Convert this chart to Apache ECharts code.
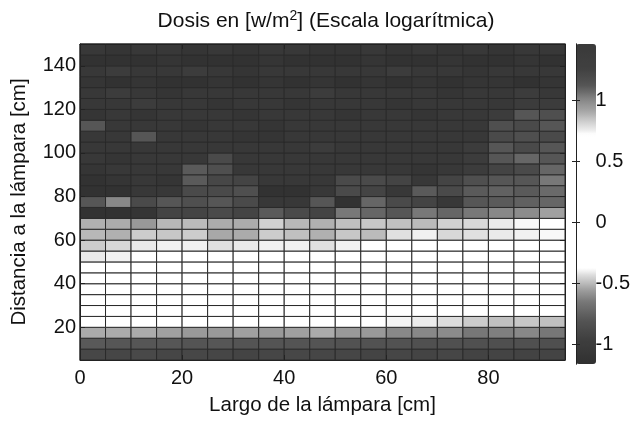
<!DOCTYPE html>
<html><head><meta charset="utf-8">
<script src="https://cdn.jsdelivr.net/npm/echarts@6/dist/echarts.min.js"></script>
<style>html,body{margin:0;padding:0;background:#fff}#c{width:633px;height:421px}</style>
</head><body><div id="c"></div>
<script>
// Column centres (Largo, cm) and row centres (Distancia, cm)
const xCenters = [2.5,7.5,12.5,17.5,22.5,27.5,32.5,37.5,42.5,47.5,52.5,57.5,62.5,67.5,72.5,77.5,82.5,87.5,92.5];
const yCenters = [7.5,12.5,17.5,22.5,27.5,32.5,37.5,42.5,47.5,52.5,57.5,62.5,67.5,72.5,77.5,82.5,87.5,92.5,97.5,102.5,107.5,112.5,117.5,122.5,127.5,132.5,137.5,142.5,147.5];
// log10 dose, one row per distance (bottom row first)
const dose = [
 [1.21,1.22,1.2,1.22,1.21,1.22,1.23,1.22,1.21,1.22,1.22,1.23,1.22,1.23,1.22,1.24,1.23,1.24,1.23],
 [1.11,1.12,1.12,1.12,1.13,1.12,1.13,1.13,1.13,1.13,1.14,1.14,1.14,1.15,1.15,1.15,1.16,1.15,1.16],
 [0.9,0.9,0.9,0.93,0.95,0.95,0.93,0.95,0.93,0.9,0.95,0.95,1.0,1.0,0.99,1.04,1.02,1.0,1.04],
 [0.66,0.67,0.68,0.67,0.69,0.68,0.69,0.68,0.7,0.69,0.7,0.71,0.74,0.755,0.79,0.83,0.855,0.84,0.855],
 [0.55,0.56,0.57,0.56,0.58,0.57,0.58,0.56,0.57,0.58,0.57,0.58,0.59,0.6,0.6,0.61,0.62,0.62,0.63],
 [0.4,0.41,0.42,0.41,0.43,0.42,0.43,0.42,0.42,0.43,0.42,0.43,0.44,0.44,0.45,0.45,0.46,0.46,0.47],
 [0.24,0.25,0.27,0.26,0.28,0.27,0.27,0.26,0.27,0.28,0.27,0.28,0.29,0.29,0.3,0.3,0.31,0.31,0.32],
 [0.08,0.1,0.12,0.11,0.13,0.12,0.12,0.11,0.12,0.13,0.12,0.13,0.14,0.14,0.15,0.15,0.16,0.16,0.17],
 [-0.1,-0.07,-0.04,-0.05,-0.03,-0.04,-0.04,-0.05,-0.04,-0.03,-0.04,-0.03,-0.02,-0.02,-0.01,-0.01,0,0,0.01],
 [-0.41,-0.4,-0.3,-0.26,-0.24,-0.25,-0.26,-0.25,-0.24,-0.24,-0.23,-0.22,-0.21,-0.2,-0.2,-0.19,-0.18,-0.18,-0.17],
 [-0.465,-0.44,-0.41,-0.4,-0.4,-0.425,-0.41,-0.4,-0.4,-0.425,-0.4,-0.36,-0.35,-0.35,-0.34,-0.34,-0.33,-0.33,-0.32],
 [-0.505,-0.52,-0.465,-0.475,-0.465,-0.535,-0.53,-0.465,-0.49,-0.52,-0.475,-0.5,-0.425,-0.4,-0.44,-0.425,-0.41,-0.4,-0.39],
 [-0.52,-0.53,-0.57,-0.505,-0.5,-0.53,-0.53,-0.455,-0.505,-0.52,-0.49,-0.475,-0.49,-0.5,-0.455,-0.44,-0.41,-0.39,-0.36],
 [-1.13,-1.13,-1.09,-0.92,-0.92,-0.88,-0.92,-0.78,-0.88,-0.92,-0.65,-0.73,-0.8,-0.65,-0.73,-0.65,-0.61,-0.6,-0.55],
 [-0.8,-0.61,-0.88,-0.8,-0.84,-0.8,-0.88,-1.05,-1.05,-0.8,-1.13,-0.73,-0.88,-0.92,-1.05,-0.8,-0.78,-0.75,-0.73],
 [-1.13,-1.13,-1.05,-1.05,-0.88,-0.88,-0.84,-1.13,-1.13,-1.05,-0.88,-0.92,-1.05,-0.78,-0.88,-0.78,-0.75,-0.78,-0.71],
 [-1.13,-1.09,-1.05,-1.09,-0.78,-0.9,-0.92,-1.05,-1.05,-1.05,-0.88,-0.88,-0.92,-1.05,-0.92,-0.84,-0.8,-0.8,-0.65],
 [-1.09,-1.05,-1.05,-1.05,-0.78,-0.84,-1.05,-1.05,-1.05,-1.05,-1.05,-1.05,-1.05,-1.09,-1.05,-1.0,-0.92,-0.88,-0.73],
 [-1.05,-1.09,-1.05,-1.05,-1.05,-0.88,-1.05,-1.05,-1.05,-1.05,-1.05,-1.05,-1.05,-1.05,-1.05,-1.0,-0.8,-0.73,-0.8],
 [-1.05,-1.05,-1.05,-1.05,-1.05,-1.05,-1.05,-1.05,-1.05,-1.0,-1.05,-1.05,-1.05,-1.05,-1.05,-1.0,-0.8,-0.88,-0.8],
 [-1.05,-1.05,-0.8,-1.05,-1.05,-1.05,-1.09,-1.09,-1.05,-1.05,-1.05,-1.05,-1.05,-1.05,-1.05,-1.05,-0.88,-0.84,-0.88],
 [-0.8,-1.05,-1.05,-1.05,-1.09,-1.05,-1.05,-1.09,-1.05,-1.05,-1.05,-1.05,-1.05,-1.05,-1.05,-1.05,-0.84,-0.88,-0.8],
 [-1.09,-1.05,-1.09,-1.05,-1.05,-1.05,-1.09,-1.05,-1.05,-1.05,-1.09,-1.05,-1.05,-1.09,-1.05,-1.05,-1.0,-0.8,-0.84],
 [-1.05,-1.05,-1.0,-1.05,-1.05,-1.09,-1.05,-1.05,-1.09,-1.05,-1.05,-1.05,-1.09,-1.05,-1.05,-1.05,-1.05,-1.0,-1.0],
 [-1.05,-1.0,-1.05,-1.09,-1.05,-1.05,-1.05,-1.05,-1.05,-1.0,-1.05,-1.05,-1.05,-1.05,-1.09,-1.05,-1.05,-1.0,-1.05],
 [-1.09,-1.13,-1.09,-1.13,-1.13,-1.09,-1.13,-1.09,-1.13,-1.09,-1.13,-1.09,-1.13,-1.09,-1.13,-1.09,-1.09,-1.13,-1.09],
 [-1.05,-1.0,-1.05,-1.05,-1.0,-1.05,-1.09,-1.05,-1.05,-1.05,-1.05,-1.05,-1.0,-1.05,-1.05,-1.09,-1.05,-1.05,-1.05],
 [-1.13,-1.13,-1.13,-1.09,-1.13,-1.13,-1.13,-1.09,-1.13,-1.13,-1.13,-1.09,-1.13,-1.13,-1.09,-1.13,-1.13,-1.09,-1.13],
 [-1.05,-1.09,-1.05,-1.05,-1.09,-1.05,-1.09,-1.05,-1.05,-1.09,-1.09,-1.05,-1.09,-1.05,-1.09,-1.05,-1.09,-1.05,-1.05]
];
const xTicks = [0,20,40,60,80];
const yTicks = [20,40,60,80,100,120,140];
const cbTicks = [-1,-0.5,0,0.5,1];
const cbMin = -1.16, cbMax = 1.46;
const xMin = 0, xMax = 95, yMin = 5, yMax = 150;

// colormap (value -> gray level), dark-white-dark
const grayStops = [[-1.16,48],[-1.05,56],[-0.95,64],[-0.8,85],[-0.65,120],[-0.55,160],[-0.5,187],[-0.43,221],[-0.38,255],[0.72,255],[0.75,238],[0.83,204],[0.9,170],[1.0,136],[1.12,85],[1.26,64],[1.46,58]];
function grayAt(v){
  for(let i=1;i<grayStops.length;i++){
    const a=grayStops[i-1], b=grayStops[i];
    if(v<=b[0]){ const t=(v-a[0])/(b[0]-a[0]); return Math.round(a[1]+t*(b[1]-a[1])); }
  }
  return grayStops[grayStops.length-1][1];
}
const colors=[];
const N=265;
for(let i=0;i<N;i++){
  const v=cbMin+(cbMax-cbMin)*i/(N-1);
  const g=grayAt(v).toString(16).padStart(2,'0');
  colors.push('#'+g+g+g);
}

const data=[];
for(let r=0;r<yCenters.length;r++) for(let c=0;c<xCenters.length;c++) data.push([xCenters[c],yCenters[r],dose[r][c]]);
const halfW=(xCenters[1]-xCenters[0])/2, halfH=(yCenters[1]-yCenters[0])/2;

const FONT='Liberation Sans, Arial, sans-serif';
const lab={fontFamily:FONT,fontSize:20,color:'#111'};
const nameStyle={fontFamily:FONT,fontSize:20.5,color:'#111'};
const lineC='#222';

const chart=echarts.init(document.getElementById('c'),null,{renderer:'canvas'});
chart.setOption({
  animation:false,
  backgroundColor:'#fff',
  title:{
    text:'{a|Dosis en [w/m}{s|2}{a|] (Escala logarítmica)}',
    left:321, textAlign:'center', top:4,
    textStyle:{rich:{
      a:{fontFamily:FONT,fontSize:21,fontWeight:'normal',color:'#111'},
      s:{fontFamily:FONT,fontSize:14,fontWeight:'normal',color:'#111',verticalAlign:'bottom',padding:[0,0,10,0]}
    }}
  },
  grid:[
    {left:80,top:44,right:68,bottom:58,show:true,borderColor:lineC,borderWidth:1,backgroundColor:'transparent'},
    {left:576,top:44,width:20,height:320,show:false}
  ],
  xAxis:[
    {type:'value',gridIndex:0,min:xMin,max:xMax,position:'bottom',z:10,
     axisLine:{show:true,onZero:false,lineStyle:{color:lineC}},
     axisTick:{show:true,inside:true,length:5,customValues:xTicks,lineStyle:{color:lineC}},
     axisLabel:Object.assign({customValues:xTicks,margin:8},lab),
     splitLine:{show:false},
     name:'Largo de la lámpara [cm]',nameLocation:'middle',nameGap:35,
     nameTextStyle:nameStyle},
    {type:'value',gridIndex:0,min:xMin,max:xMax,position:'top',z:10,
     axisLine:{show:true,onZero:false,lineStyle:{color:lineC}},
     axisTick:{show:true,inside:true,length:5,customValues:xTicks,lineStyle:{color:lineC}},
     axisLabel:{show:false},splitLine:{show:false}},
    {type:'value',gridIndex:1,min:0,max:1,show:false}
  ],
  yAxis:[
    {type:'value',gridIndex:0,min:yMin,max:yMax,position:'left',z:10,
     axisLine:{show:true,onZero:false,lineStyle:{color:lineC}},
     axisTick:{show:true,inside:true,length:5,customValues:yTicks,lineStyle:{color:lineC}},
     axisLabel:Object.assign({customValues:yTicks,margin:4},lab),
     splitLine:{show:false},
     name:'Distancia a la lámpara [cm]',nameLocation:'middle',nameGap:50,
     nameTextStyle:nameStyle},
    {type:'value',gridIndex:0,min:yMin,max:yMax,position:'right',z:10,
     axisLine:{show:true,onZero:false,lineStyle:{color:lineC}},
     axisTick:{show:true,inside:true,length:5,customValues:yTicks,lineStyle:{color:lineC}},
     axisLabel:{show:false},splitLine:{show:false}},
    {type:'value',gridIndex:1,min:cbMin,max:cbMax,position:'right',z:10,
     axisLine:{show:true,lineStyle:{color:lineC}},
     axisTick:{show:true,inside:true,length:4,customValues:cbTicks,lineStyle:{color:lineC}},
     axisLabel:Object.assign({customValues:cbTicks,margin:2},lab),
     splitLine:{show:false}},
    {type:'value',gridIndex:1,min:cbMin,max:cbMax,position:'left',z:10,
     axisLine:{show:true,lineStyle:{color:lineC}},
     axisTick:{show:true,inside:true,length:4,customValues:cbTicks,lineStyle:{color:lineC}},
     axisLabel:{show:false},splitLine:{show:false}}
  ],
  visualMap:{
    type:'continuous',min:cbMin,max:cbMax,seriesIndex:0,dimension:2,
    calculable:false,orient:'vertical',left:576,top:44,itemWidth:20,itemHeight:320,
    padding:0,inRange:{color:colors},textStyle:{color:'transparent'},text:null,z:4
  },
  series:[{
    type:'custom',xAxisIndex:0,yAxisIndex:0,
    encode:{x:0,y:1},
    data:data,
    renderItem:function(params,api){
      const x=api.value(0), y=api.value(1);
      const p0=api.coord([x-halfW,y+halfH]);
      const p1=api.coord([x+halfW,y-halfH]);
      return {type:'rect',shape:{x:p0[0],y:p0[1],width:p1[0]-p0[0],height:p1[1]-p0[1]},
        style:{fill:api.visual('color'),stroke:'#2a2a2a',lineWidth:1}};
    }
  }]
});
</script></body></html>
